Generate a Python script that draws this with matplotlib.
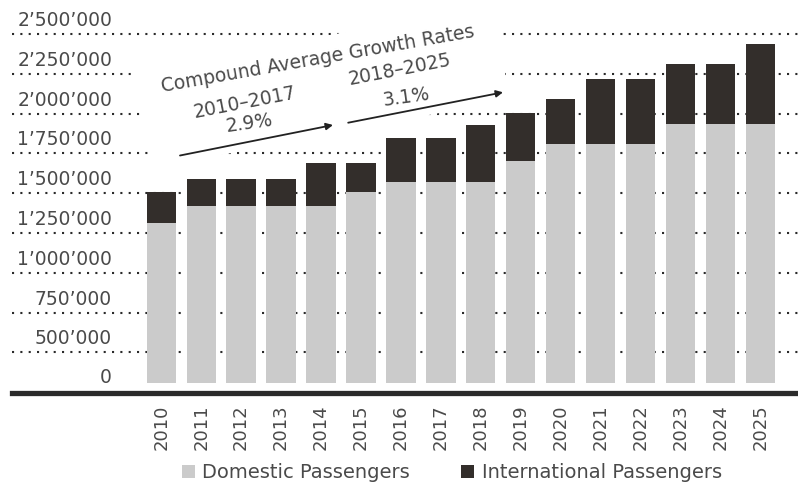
import matplotlib
matplotlib.use('Agg')
import matplotlib.pyplot as plt
from matplotlib.patches import Patch, Polygon
import numpy as np

plt.rcParams['font.family'] = ['DejaVu Sans']

years = ['2010', '2011', '2012', '2013', '2014', '2015', '2016', '2017',
         '2018', '2019', '2020', '2021', '2022', '2023', '2024', '2025']
domestic = [1311000, 1421000, 1421000, 1421000, 1421000, 1508000, 1572000, 1572000,
            1572000, 1702000, 1809000, 1809000, 1809000, 1933000, 1933000, 1933000]
international = [199000, 170000, 170000, 170000, 271000, 184000, 273000, 273000,
                 358000, 304000, 285000, 407000, 407000, 377000, 377000, 504000]
tick_vals = [0, 500000, 750000, 1000000, 1250000, 1500000, 1750000, 2000000, 2250000, 2500000]
tick_labels = ['0', '500’000', '750’000', '1’000’000', '1’250’000', '1’500’000',
               '1’750’000', '2’000’000', '2’250’000', '2’500’000']

c_dom = '#cbcbcb'
c_int = '#332e2b'
c_txt = '#4a4a4a'

# axis is squeezed below 500'000 like in the original
zero_pos = 306000.0
def fwd(v):
    v = np.asarray(v, dtype=float)
    return np.where(v >= 500000, v, zero_pos + v * (500000 - zero_pos) / 500000)
def inv(u):
    u = np.asarray(u, dtype=float)
    return np.where(u >= 500000, u, (u - zero_pos) * 500000 / (500000 - zero_pos))

fig = plt.figure(figsize=(7.98, 4.86), dpi=100)
ax = fig.add_axes([0.0147, 0.1907, 0.9853, 0.8093])
ax.set_yscale('function', functions=(fwd, inv))

x = np.arange(len(years))
ax.bar(x, domestic, width=0.733, color=c_dom, zorder=3)
ax.bar(x, international, bottom=domestic, width=0.733, color=c_int, zorder=3)

ax.set_xlim(-3.742, 15.94)
ax.set_ylim(float(inv(243300)), 2713600)

# dotted grid lines
for v in tick_vals[1:]:
    ax.axhline(v, color='#2a2a2a', lw=1.5, ls=(0, (1, 3)), zorder=1)

# white area behind the growth rate annotation
mask = Polygon([(-0.681, 2261300), (8.48, 2694700), (8.655, 2085500), (-0.205, 1658300)],
               closed=True, facecolor='white', edgecolor='none', zorder=2)
ax.add_patch(mask)

for v, lab in zip(tick_vals, tick_labels):
    off = 0 if v == 0 else 5.8
    ax.annotate(lab, xy=(-1.231, v), xytext=(0, off), textcoords='offset points',
                ha='right', va='baseline', fontsize=13.5, color=c_txt)

ax.set_yticks([])
ax.set_xticks(x)
ax.set_xticklabels(years, rotation=90, fontsize=13, color=c_txt)
ax.tick_params(axis='x', length=0, pad=8)
for s in ['top', 'left', 'right']:
    ax.spines[s].set_visible(False)
ax.spines['bottom'].set_linewidth(3.8)
ax.spines['bottom'].set_color('#2b2b2b')

# growth annotations
ax.text(3.92, 2343000, 'Compound Average Growth Rates', rotation=10, ha='center', va='center',
        fontsize=13.5, color=c_txt, rotation_mode='anchor', zorder=4)
ax.text(2.08, 2066600, '2010–2017', rotation=11, ha='center', va='center',
        fontsize=13.5, color=c_txt, rotation_mode='anchor', zorder=4)
ax.text(2.2, 1941000, '2.9%', rotation=8, ha='center', va='center',
        fontsize=13.5, color=c_txt, rotation_mode='anchor', zorder=4)
ax.text(5.98, 2274000, '2018–2025', rotation=11, ha='center', va='center',
        fontsize=13.5, color=c_txt, rotation_mode='anchor', zorder=4)
ax.text(6.13, 2104000, '3.1%', rotation=8, ha='center', va='center',
        fontsize=13.5, color=c_txt, rotation_mode='anchor', zorder=4)
ax.annotate('', xy=(4.3, 1928400), xytext=(0.47, 1736900),
            arrowprops=dict(arrowstyle='-|>', color='#222222', lw=1.3,
                            mutation_scale=10, shrinkA=0, shrinkB=0), zorder=4)
ax.annotate('', xy=(8.556, 2133800), xytext=(4.68, 1942900),
            arrowprops=dict(arrowstyle='-|>', color='#222222', lw=1.3,
                            mutation_scale=10, shrinkA=0, shrinkB=0), zorder=4)

handles = [Patch(facecolor=c_dom, edgecolor='none'), Patch(facecolor=c_int, edgecolor='none')]
fig.legend(handles, ['Domestic Passengers', 'International Passengers'], loc='center',
           bbox_to_anchor=(0.566, 0.027), ncol=2, frameon=False, fontsize=14,
           handlelength=0.67, handleheight=0.7, handletextpad=0.4, columnspacing=2.6,
           labelcolor=c_txt)

fig.savefig('out.png', dpi=100)
